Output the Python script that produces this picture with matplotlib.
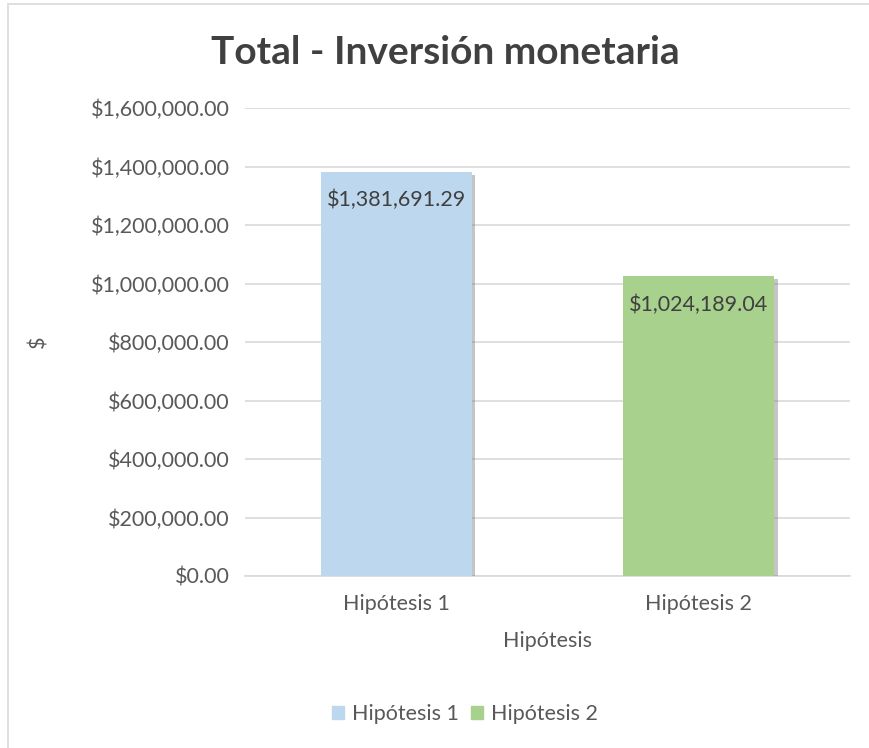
import matplotlib
matplotlib.use("Agg")
import matplotlib.pyplot as plt
import matplotlib.patheffects as pe
from matplotlib.patches import Rectangle
from matplotlib.ticker import FuncFormatter

categories = ["Hipótesis 1", "Hipótesis 2"]
values = [1381691.29, 1024189.04]
colors = ["#BDD7EE", "#A9D18E"]
yticks = [0, 200000, 400000, 600000, 800000, 1000000, 1200000, 1400000, 1600000]

plt.rcParams['font.family'] = ['Lato', 'DejaVu Sans']
txt = "#595959"
fs = 15.5

fig = plt.figure(figsize=(8.7, 7.48), dpi=100)
ax = fig.add_axes([245 / 870, 1 - 576 / 748, 605 / 870, 468 / 748])

# outer chart border (left/top visible)
fig.patches.append(Rectangle((8 / 870, -0.05), 1.1, 1 - 4 / 748 + 0.05,
                             transform=fig.transFigure, fill=False,
                             edgecolor="#D9D9D9", lw=1.2))

x = list(range(len(categories)))
shadow = [pe.SimplePatchShadow(offset=(2.5, -2), shadow_rgbFace="#7F7F7F", alpha=0.45),
          pe.Normal()]
bars = ax.bar(x, values, width=0.5, color=colors, zorder=3)
for b in bars:
    b.set_path_effects(shadow)

for xi, v in zip(x, values):
    ax.annotate(f"${v:,.2f}", (xi, v), xytext=(0, -13), textcoords="offset points",
                ha="center", va="top", fontsize=fs, color="#404040", zorder=4)

ax.set_xlim(-0.5, 1.5)
ax.set_ylim(0, 1600000)
ax.set_yticks(yticks)
ax.yaxis.set_major_formatter(FuncFormatter(lambda v, p: f"${v:,.2f}"))
ax.set_xticks(x)
ax.set_xticklabels(categories)
ax.grid(axis="y", color="#D9D9D9", lw=1.2, zorder=0)
for s in ["top", "right", "left"]:
    ax.spines[s].set_visible(False)
ax.spines["bottom"].set_color("#D9D9D9")
ax.spines["bottom"].set_linewidth(1.2)
ax.tick_params(axis="both", length=0, labelsize=fs, colors=txt)
ax.tick_params(axis="y", pad=11)
ax.tick_params(axis="x", pad=13)

ax.set_xlabel("Hipótesis", fontsize=fs, color=txt, labelpad=12)
fig.text(38 / 870, 1 - 342 / 748, "$", rotation=90, fontsize=fs, color=txt,
         ha="center", va="center")
fig.text(445 / 870, 1 - 52 / 748, "Total - Inversión monetaria", fontsize=28,
         fontweight="bold", color="#404040", ha="center", va="center")

handles = [Rectangle((0, 0), 1, 1, color=c) for c in colors]
fig.legend(handles, categories, loc="center", bbox_to_anchor=(465 / 870, 1 - 714 / 748),
           ncol=2, frameon=False, fontsize=fs, labelcolor=txt,
           handlelength=0.55, handleheight=0.55, handletextpad=0.35, columnspacing=0.6)

fig.savefig("out.png", dpi=100, facecolor="white")
